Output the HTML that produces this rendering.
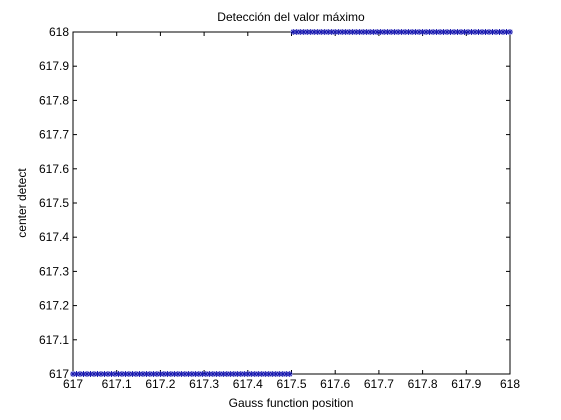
<!DOCTYPE html>
<html><head><meta charset="utf-8"><style>
body{margin:0;background:#fff;}
svg{display:block;font-family:"Liberation Sans",Arial,sans-serif;}
</style></head><body>
<svg id="chart" width="561" height="420">
<rect x="0" y="0" width="561" height="420" fill="#fff"/>
<rect x="73" y="32" width="437" height="342" fill="#fff" stroke="#000" stroke-width="1"/>
<text x="291" y="21" font-size="12" text-anchor="middle">Detección del valor máximo</text>
<text x="291" y="407" font-size="12" text-anchor="middle">Gauss function position</text>
<text x="26" y="203" font-size="12" text-anchor="middle" transform="rotate(-90 26 203)">center detect</text>
<g id="axes"></g>
<g id="marks"></g>
</svg>
<script>
const xTicks=[617,617.1,617.2,617.3,617.4,617.5,617.6,617.7,617.8,617.9,618];
const yTicks=[617,617.1,617.2,617.3,617.4,617.5,617.6,617.7,617.8,617.9,618];
const xTickLabels=["617","617.1","617.2","617.3","617.4","617.5","617.6","617.7","617.8","617.9","618"];
const yTickLabels=["617","617.1","617.2","617.3","617.4","617.5","617.6","617.7","617.8","617.9","618"];
const positions=[];
const detected=[];
for(let i=0;i<=125;i++){const p=617+i*0.008;positions.push(p);detected.push(p<617.5?617:618);}
const L=73,R=510,T=32,B=374;
const xs=v=>L+(v-617)/(618-617)*(R-L);
const ys=v=>B-(v-617)/(618-617)*(B-T);
const NS="http://www.w3.org/2000/svg";
const ax=document.getElementById('axes');
function mk(tag,attrs,parent){const e=document.createElementNS(NS,tag);for(const k in attrs)e.setAttribute(k,attrs[k]);parent.appendChild(e);return e;}
xTicks.forEach((v,i)=>{
 const x=xs(v);
 const t1=mk('line',{x1:x,x2:x,y1:B,y2:B-4,stroke:'#000'},ax);
 
 
 const t2=mk('line',{x1:x,x2:x,y1:T,y2:T+4,stroke:'#000'},ax);
 
 
 const tx=mk('text',{x:x,y:B+14,'font-size':12,'text-anchor':'middle'},ax);
 tx.textContent=xTickLabels[i];
 
 
});
yTicks.forEach((v,i)=>{
 const y=ys(v);
 const t1=mk('line',{x1:L,x2:L+4,y1:y,y2:y,stroke:'#000'},ax);
 
 
 const t2=mk('line',{x1:R,x2:R-4,y1:y,y2:y,stroke:'#000'},ax);
 
 
 const tx=mk('text',{x:L-4,y:y+4,'font-size':12,'text-anchor':'end'},ax);
 tx.textContent=yTickLabels[i];
 
 
});
const mg=document.getElementById('marks');
positions.forEach((p,i)=>{
 const x=xs(p),y=ys(detected[i]);
 const s=3;
 const d=`M${x-s} ${y}H${x+s}M${x} ${y-s}V${y+s}M${x-2.2} ${y-2.2}L${x+2.2} ${y+2.2}M${x-2.2} ${y+2.2}L${x+2.2} ${y-2.2}`;
 const m=mk('path',{d:d,stroke:'#1a1ab0','stroke-width':1,fill:'none'},mg);
 
 
});
</script>
</body></html>
